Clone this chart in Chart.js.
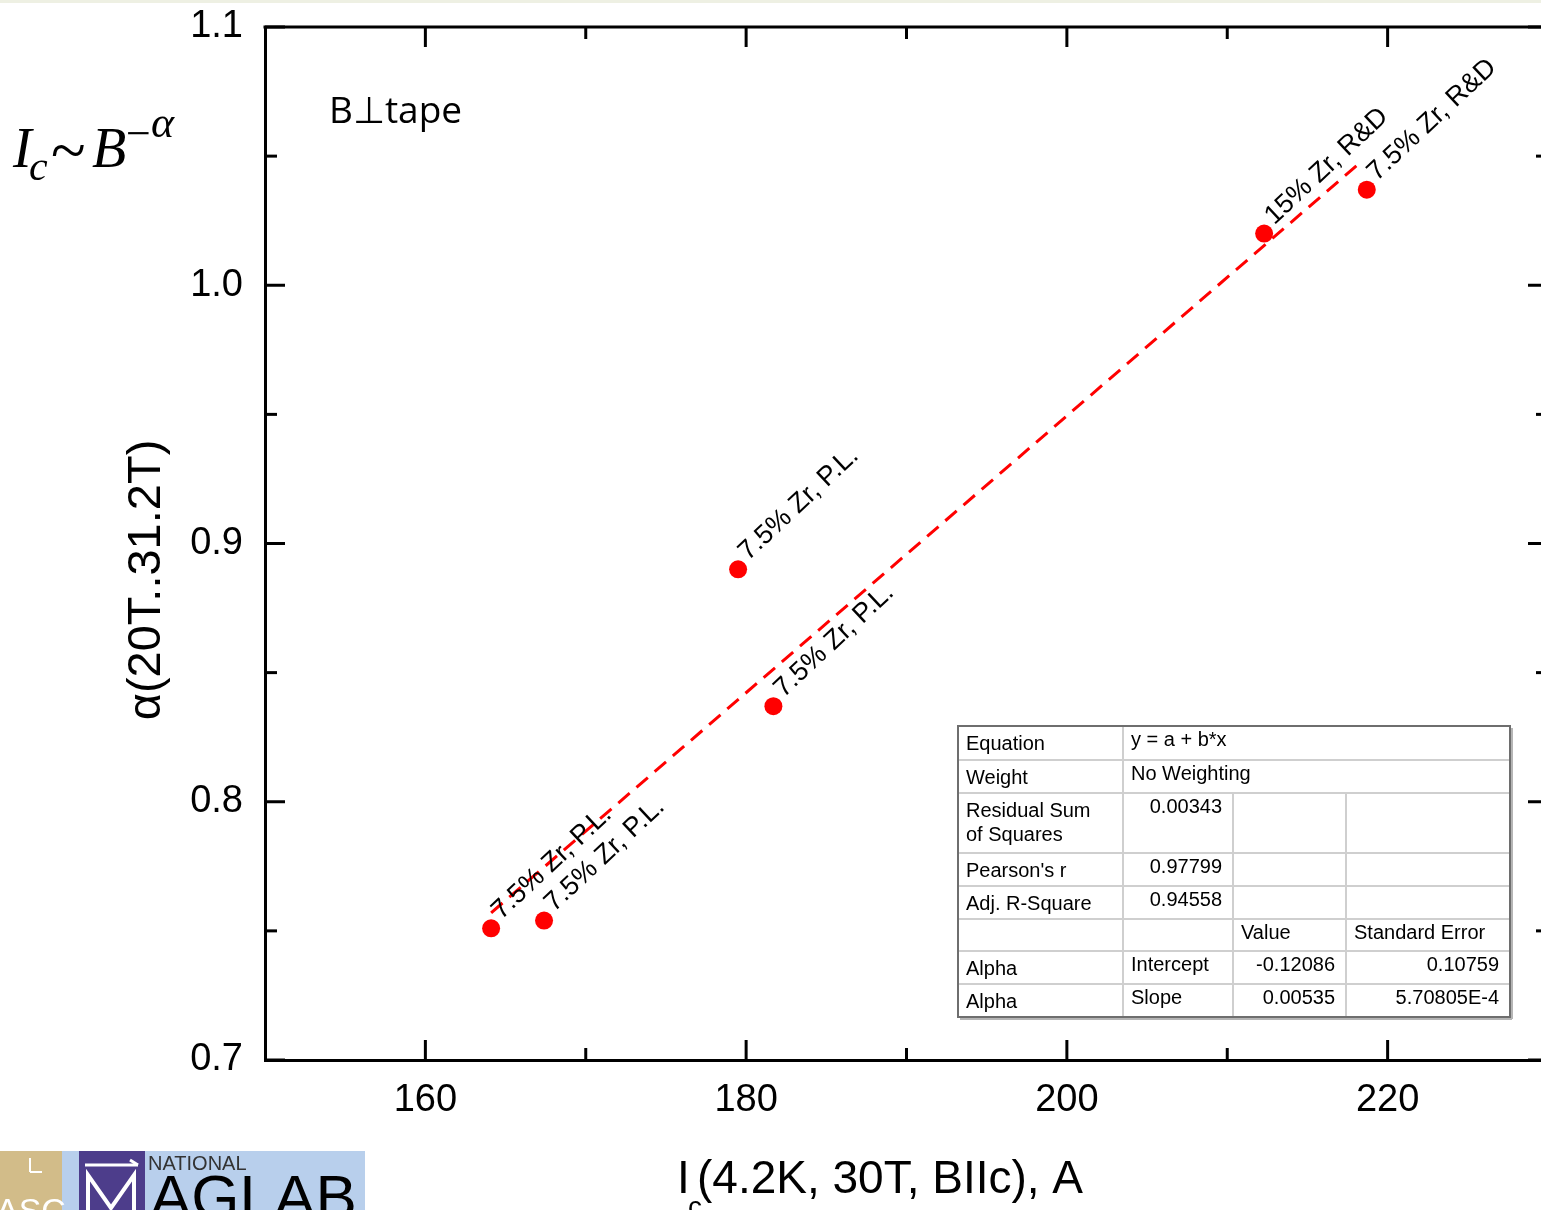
<!DOCTYPE html>
<html>
<head>
<meta charset="utf-8">
<script src="https://cdn.jsdelivr.net/npm/chart.js@4.4.1/dist/chart.umd.min.js"></script>
<style>
html, body { margin: 0; padding: 0; background: #fff; overflow: hidden; }
#wrap { position: relative; width: 1557px; height: 1210px; }
</style>
</head>
<body>
<div id="wrap"><canvas id="alphaChart" width="1557" height="1210"></canvas></div>
<script>
// Messpunkte: Ic(4.2K, 30T, B||c) gegen alpha(20T..31.2T)
const icWerte = [164.1, 167.4, 179.5, 181.7, 212.3, 218.7];
const alphaWerte = [0.751, 0.754, 0.890, 0.837, 1.020, 1.037];
const punktLabels = ['7.5% Zr, P.L.', '7.5% Zr, P.L.', '7.5% Zr, P.L.', '7.5% Zr, P.L.', '15% Zr, R&D', '7.5% Zr, R&D'];

// Fitgerade (Endpunkte)
const fitX = [164.1, 218.2];
const fitY = [0.757, 1.047];

// Achsen
const xTicks = [160, 180, 200, 220];
const xMinorTicks = [170, 190, 210];
const yTicks = [0.7, 0.8, 0.9, 1.0, 1.1];
const yMinorTicks = [0.75, 0.85, 0.95, 1.05];

// Fit-Tabelle (Origin)
const fitTabelle = [
    ['Equation', 'y = a + b*x', '', ''],
    ['Weight', 'No Weighting', '', ''],
    ['Residual Sum\nof Squares', '0.00343', '', ''],
    ["Pearson's r", '0.97799', '', ''],
    ['Adj. R-Square', '0.94558', '', ''],
    ['', '', 'Value', 'Standard Error'],
    ['Alpha', 'Intercept', '-0.12086', '0.10759'],
    ['Alpha', 'Slope', '0.00535', '5.70805E-4']
];

const SANS = '"Liberation Sans", Arial, sans-serif';

// Ticks nach innen, obere Achse, Texte, Tabelle, Logo
const extrasPlugin = {
    id: 'extras',
    beforeDraw(chart) {
        const ctx = chart.ctx;
        ctx.save();
        ctx.fillStyle = '#eef0e3';
        ctx.fillRect(0, 0, chart.width, 3);
        ctx.restore();
    },
    afterDraw(chart) {
        const ctx = chart.ctx;
        const a = chart.chartArea;
        const xs = chart.scales.x;
        const ys = chart.scales.y;
        ctx.save();
        ctx.strokeStyle = '#000';
        ctx.lineWidth = 3;

        // obere Achse
        ctx.beginPath();
        ctx.moveTo(a.left - 1.5, a.top);
        ctx.lineTo(a.right, a.top);
        ctx.stroke();

        const tick = (x1, y1, x2, y2) => {
            ctx.beginPath();
            ctx.moveTo(x1, y1);
            ctx.lineTo(x2, y2);
            ctx.stroke();
        };
        xTicks.forEach(v => {
            const px = xs.getPixelForValue(v);
            tick(px, a.bottom, px, a.bottom - 20);
            tick(px, a.top, px, a.top + 20);
        });
        xMinorTicks.forEach(v => {
            const px = xs.getPixelForValue(v);
            tick(px, a.bottom, px, a.bottom - 12);
            tick(px, a.top, px, a.top + 12);
        });
        yTicks.forEach(v => {
            const py = ys.getPixelForValue(v);
            tick(a.left, py, a.left + 20, py);
            tick(a.right, py, a.right - 20, py);
        });
        yMinorTicks.forEach(v => {
            const py = ys.getPixelForValue(v);
            tick(a.left, py, a.left + 12, py);
            tick(a.right, py, a.right - 12, py);
        });

        // Punktbeschriftungen
        const meta = chart.getDatasetMeta(0);
        ctx.fillStyle = '#000';
        ctx.font = '27px ' + SANS;
        ctx.textAlign = 'left';
        ctx.textBaseline = 'alphabetic';
        meta.data.forEach((pt, i) => {
            ctx.save();
            ctx.translate(pt.x + 10, pt.y - 8);
            ctx.rotate(-43 * Math.PI / 180);
            ctx.fillText(punktLabels[i], 0, 0);
            ctx.restore();
        });

        // Achsentitel
        ctx.save();
        ctx.translate(147, 580);
        ctx.rotate(-Math.PI / 2);
        ctx.textAlign = 'center';
        ctx.textBaseline = 'middle';
        ctx.font = '47px ' + SANS;
        ctx.fillText('\u03b1(20T..31.2T)', 0, 0);
        ctx.restore();

        ctx.textAlign = 'left';
        ctx.font = '46px ' + SANS;
        ctx.fillText('I', 677, 1193);
        ctx.font = '28px ' + SANS;
        ctx.fillText('c', 688, 1216);
        ctx.font = '46px ' + SANS;
        ctx.fillText('(4.2K, 30T, BIIc), A', 697, 1193);

        // Formel
        const serifI = 'italic 56px "Liberation Serif", "DejaVu Serif", serif';
        ctx.font = serifI;
        ctx.fillText('I', 13, 167);
        ctx.font = 'italic 42px "Liberation Serif", serif';
        ctx.fillText('c', 29, 180);
        ctx.font = '64px "Liberation Serif", serif';
        ctx.fillText('~', 51, 172);
        ctx.font = serifI;
        ctx.fillText('B', 92, 167);
        ctx.font = '44px "Liberation Serif", serif';
        ctx.fillText('\u2212', 126, 148);
        ctx.font = 'italic 44px "Liberation Serif", serif';
        ctx.fillText('\u03b1', 151, 137);

        ctx.font = '37px "Open Sans", "Noto Sans", sans-serif';
        ctx.fillText('B\u22a5tape', 329, 123);

        // Tabelle
        const rowsY = [726, 760, 793, 853, 886, 919, 951, 984, 1017];
        const colsX = [958, 1123, 1233, 1346, 1510];
        ctx.fillStyle = '#fff';
        ctx.fillRect(colsX[0], rowsY[0], colsX[4] - colsX[0], rowsY[8] - rowsY[0]);
        ctx.strokeStyle = '#cfcfcf';
        ctx.lineWidth = 2;
        for (let r = 1; r < rowsY.length - 1; r++) {
            tick(colsX[0], rowsY[r], colsX[4], rowsY[r]);
        }
        tick(colsX[1], rowsY[0], colsX[1], rowsY[8]);
        tick(colsX[2], rowsY[2], colsX[2], rowsY[8]);
        tick(colsX[3], rowsY[2], colsX[3], rowsY[8]);
        ctx.strokeStyle = '#6e6e6e';
        ctx.lineWidth = 2;
        ctx.strokeRect(colsX[0], rowsY[0], colsX[4] - colsX[0], rowsY[8] - rowsY[0]);
        ctx.strokeStyle = '#b5b5b5';
        tick(colsX[0] + 2, rowsY[8] + 2, colsX[4] + 2, rowsY[8] + 2);
        tick(colsX[4] + 2, rowsY[0] + 2, colsX[4] + 2, rowsY[8] + 2);

        ctx.fillStyle = '#000';
        ctx.font = '20px ' + SANS;
        const istZahl = s => /^-?[\d.]+(E-?\d+)?$/.test(s);
        fitTabelle.forEach((zeile, r) => {
            zeile.forEach((zelle, c) => {
                if (!zelle) return;
                const top = rowsY[r];
                const zeilen = zelle.split('\n');
                zeilen.forEach((t, k) => {
                    const base = top + (c === 0 ? 24 : 20) + k * 24;
                    if (istZahl(t)) {
                        ctx.textAlign = 'right';
                        ctx.fillText(t, colsX[c + 1] - 11, base);
                    } else {
                        ctx.textAlign = 'left';
                        ctx.fillText(t, colsX[c] + 8, base);
                    }
                });
            });
        });

        // Logo unten links (angedeutet)
        ctx.textAlign = 'left';
        ctx.fillStyle = '#d2bc89';
        ctx.fillRect(0, 1151, 62, 59);
        ctx.fillStyle = '#b8cfec';
        ctx.fillRect(62, 1151, 303, 59);
        ctx.fillStyle = '#4d3d8b';
        ctx.fillRect(79, 1151, 66, 59);
        ctx.strokeStyle = '#fff';
        ctx.lineWidth = 3;
        tick(85, 1165, 138, 1165);
        tick(130, 1160, 138, 1165);
        ctx.lineWidth = 4;
        ctx.beginPath();
        ctx.moveTo(88, 1212);
        ctx.lineTo(88, 1175);
        ctx.lineTo(111, 1208);
        ctx.lineTo(134, 1175);
        ctx.lineTo(134, 1212);
        ctx.stroke();
        ctx.lineWidth = 2;
        tick(30, 1158, 30, 1172);
        tick(30, 1172, 42, 1172);
        ctx.fillStyle = '#fff';
        ctx.font = '34px ' + SANS;
        ctx.fillText('ASC', -4, 1222);
        ctx.fillStyle = '#333';
        ctx.font = '20px ' + SANS;
        ctx.fillText('NATIONAL', 148, 1170);
        ctx.fillStyle = '#000';
        ctx.font = '62px ' + SANS;
        ctx.fillText('AGLAB', 150, 1218);

        ctx.restore();
    }
};

const ctx = document.getElementById('alphaChart').getContext('2d');
const alphaChart = new Chart(ctx, {
    type: 'scatter',
    data: {
        datasets: [{
            label: 'alpha',
            data: icWerte.map((x, i) => ({ x: x, y: alphaWerte[i] })),
            backgroundColor: '#ff0000',
            borderWidth: 0,
            pointRadius: 9,
            pointHoverRadius: 9
        }, {
            label: 'Fit',
            type: 'line',
            data: fitX.map((x, i) => ({ x: x, y: fitY[i] })),
            borderColor: '#ff0000',
            borderWidth: 3,
            borderDash: [15, 9],
            pointRadius: 0,
            fill: false
        }]
    },
    options: {
        responsive: false,
        animation: false,
        devicePixelRatio: 1,
        layout: { padding: { top: 27, right: 2, left: 0, bottom: 0 } },
        plugins: { legend: { display: false }, tooltip: { enabled: false } },
        scales: {
            x: {
                type: 'linear',
                min: 150,
                max: 230,
                afterBuildTicks: s => { s.ticks = xTicks.map(v => ({ value: v })); },
                afterFit: s => { s.height = 150; s.paddingLeft = 0; s.paddingRight = 0; },
                grid: { display: true, drawOnChartArea: false, drawTicks: false },
                border: { display: true, color: '#000', width: 3 },
                ticks: {
                    autoSkip: false,
                    maxRotation: 0,
                    padding: 18,
                    color: '#000',
                    font: { family: SANS, size: 38 },
                    callback: v => String(v)
                }
            },
            y: {
                type: 'linear',
                min: 0.7,
                max: 1.1,
                afterBuildTicks: s => { s.ticks = yTicks.map(v => ({ value: v })); },
                afterFit: s => { s.width = 265; s.paddingTop = 0; s.paddingBottom = 0; },
                grid: { display: true, drawOnChartArea: false, drawTicks: false },
                border: { display: true, color: '#000', width: 3 },
                ticks: {
                    padding: 22,
                    color: '#000',
                    font: { family: SANS, size: 38 },
                    callback: v => v.toFixed(1)
                }
            }
        }
    },
    plugins: [extrasPlugin]
});
</script>
</body>
</html>
